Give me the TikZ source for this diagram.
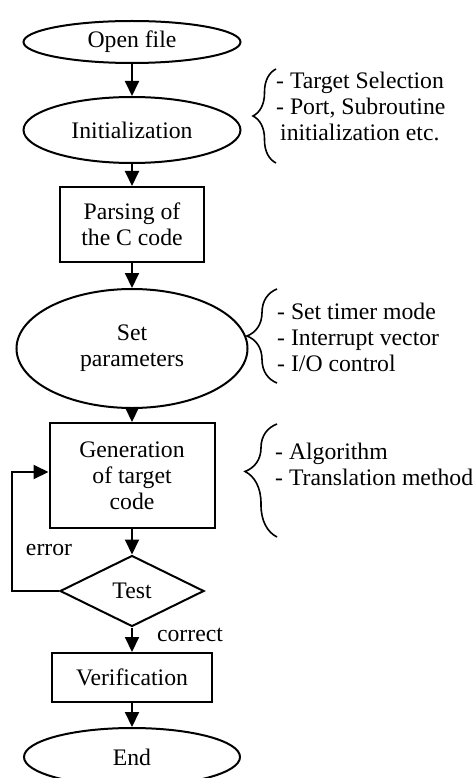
\documentclass[tikz,border=0pt]{standalone}
\usepackage{fontspec}
\setmainfont{Liberation Serif}
\usetikzlibrary{shapes.geometric,arrows.meta,decorations.pathreplacing}
\begin{document}
\begin{tikzpicture}[x=1pt,y=-1pt,
  every node/.style={font=\fontsize{23.7}{26}\selectfont, inner sep=0pt},
  base/.style={draw, line width=2pt},
  oval/.style={base, ellipse, align=center},
  box/.style={base, rectangle, align=center},
  decision/.style={base, diamond},
  link/.style={line width=2pt, -{Triangle[length=15pt,width=14pt]}},
  curly/.style={line width=1.6pt, decorate},
  note/.style={anchor=base west, align=left},
]
\useasboundingbox (0,0) rectangle (475,778);
\clip (0,0) rectangle (475,778);

\node[oval, minimum width=217pt, minimum height=42pt] (open) at (132,42) {Open file};
\node[oval, minimum width=217pt, minimum height=66pt] (init) at (132,130) {Initialization};
\node[box, minimum width=144pt, minimum height=75pt] (parse) at (132,224.5) {Parsing of\\the C code};
\node[oval, minimum width=231pt, minimum height=119pt] (setp) at (132,348.5) {Set\\parameters};
\node[box, minimum width=165pt, minimum height=105pt] (gen) at (132,475.5) {Generation\\of target\\code};
\node[decision, minimum width=144pt, minimum height=71pt] (test) at (132,591) {Test};
\node[box, minimum width=160pt, minimum height=49pt] (verif) at (132,677.5) {Verification};
\node[oval, minimum width=216pt, minimum height=58pt] (end) at (132,757) {End};

\draw[link] (open) -- (init);
\draw[link] (init) -- (parse);
\draw[link] (parse) -- (setp);
\draw[link] (setp) -- (gen);
\draw[link] (gen) -- (test);
\draw[link] (test) -- (verif);
\draw[link] (verif) -- (end);

\coordinate (fb) at (12,591);
\draw[link] (test.west) -- (fb) |- ([yshift=3.5pt]gen.west);

\node (err) at (49,550) {error};
\node (cor) at (190,635) {correct};

% braces and notes
\coordinate (b1s) at (276,163);
\coordinate (b1e) at (276,69);
\draw[curly, decoration={brace, amplitude=23pt, aspect=0.5}] (b1s) -- (b1e);
\node[note] (n1) at (276,141) {- Target Selection\\- Port, Subroutine\\\hspace*{4pt}initialization etc.};

\coordinate (b2s) at (277,383);
\coordinate (b2e) at (277,289);
\draw[curly, decoration={brace, amplitude=30pt, aspect=0.5}] (b2s) -- (b2e);
\node[note] (n2) at (277,371) {- Set timer mode\\- Interrupt vector\\- I/O control};

\coordinate (b3s) at (277,537);
\coordinate (b3e) at (277,424);
\draw[curly, decoration={brace, amplitude=32pt, aspect=0.58}] (b3s) -- (b3e);
\node[note] (n3) at (275,485) {- Algorithm\\- Translation method};
\end{tikzpicture}
\end{document}
